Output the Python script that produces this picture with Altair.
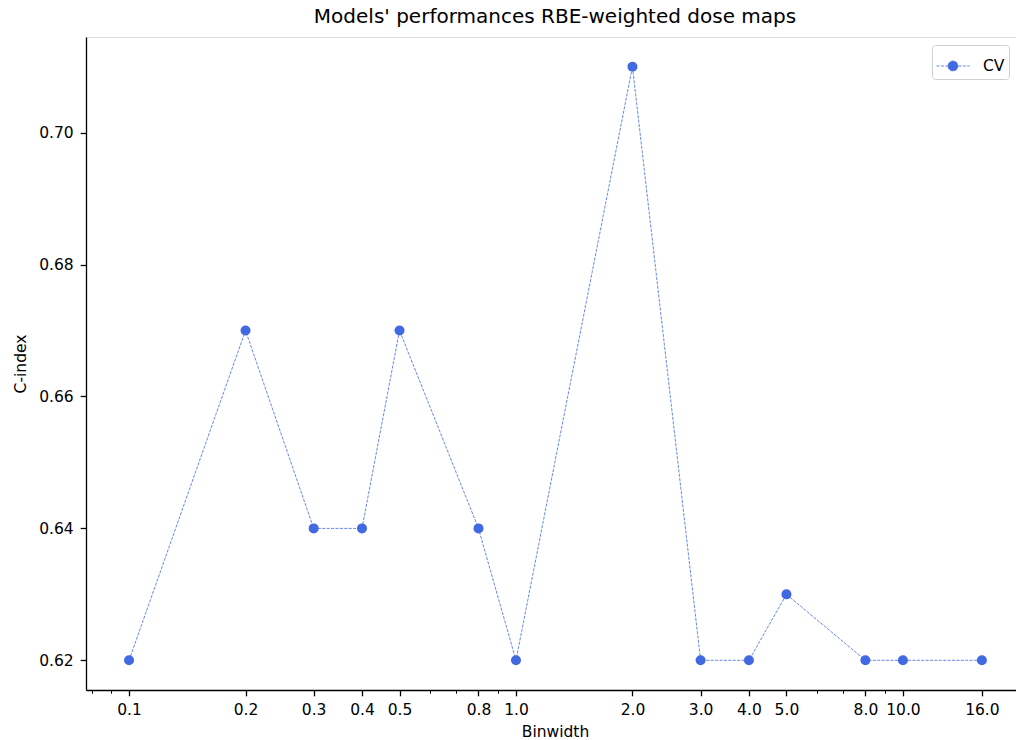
import altair as alt
import pandas as pd

binwidths = [0.1, 0.2, 0.3, 0.4, 0.5, 0.8, 1.0, 2.0, 3.0, 4.0, 5.0, 8.0, 10.0, 16.0]
cindex = [0.62, 0.67, 0.64, 0.64, 0.67, 0.64, 0.62, 0.71, 0.62, 0.62, 0.63, 0.62, 0.62, 0.62]
series = ["CV"] * len(binwidths)
minor_ticks = [0.08, 0.09, 0.6, 0.7, 0.9, 6.0, 7.0, 9.0]
y_ticks = [0.62, 0.64, 0.66, 0.68, 0.70]

df = pd.DataFrame({"binwidth": binwidths, "cindex": cindex, "series": series})

FONT = "DejaVu Sans"
BLUE = "#4169E1"
FS = 15.5

xscale = alt.Scale(type="log", domain=[0.0774, 19.6], nice=False)
yscale = alt.Scale(domain=[0.6155, 0.7145], nice=False, zero=False)

major_axis = alt.Axis(
    values=binwidths, format=".1f", grid=False, title="Binwidth",
    labelFont=FONT, labelFontSize=FS, labelColor="black", labelPadding=7,
    tickSize=5.8, tickColor="black", tickWidth=1.3, domainColor="black", domainWidth=1.3,
    titleFont=FONT, titleFontSize=FS, titleFontWeight="normal", titleColor="black",
    titlePadding=6, titleX=469, titleAlign="center", labelFlush=False, labelOverlap=False,
)
minor_axis = alt.Axis(
    values=minor_ticks, labels=False, grid=False, title=None, orient="bottom",
    tickSize=3.3, tickColor="black", tickWidth=1.0, domain=False,
)
y_axis = alt.Axis(
    values=y_ticks, format=".2f", grid=False, title="C-index",
    labelFont=FONT, labelFontSize=FS, labelColor="black", labelPadding=7,
    tickSize=5.8, tickColor="black", tickWidth=1.3, domainColor="black", domainWidth=1.3,
    titleFont=FONT, titleFontSize=FS, titleFontWeight="normal", titleColor="black",
    titlePadding=10,
)

color = alt.Color(
    "series:N",
    scale=alt.Scale(domain=["CV"], range=[BLUE]),
    legend=alt.Legend(
        title=None, orient="none", legendX=846, legendY=8,
        symbolType="M-1,0L1,0M-0.3,0A0.3,0.3,0,1,0,0.3,0A0.3,0.3,0,1,0,-0.3,0Z",
        symbolSize=1089, symbolFillColor=BLUE, symbolStrokeColor=BLUE,
        symbolStrokeWidth=0.8, symbolDash=[3.1, 1.3],
        labelFont=FONT, labelFontSize=FS, labelColor="black", labelOffset=13,
        padding=4, strokeColor="#d0d0d0", cornerRadius=3, fillColor="white",
    ),
)

base = alt.Chart(df)
line = base.mark_line(strokeDash=[3.1, 1.3], strokeWidth=0.8).encode(
    x=alt.X("binwidth:Q", scale=xscale, axis=major_axis),
    y=alt.Y("cindex:Q", scale=yscale, axis=y_axis),
    color=color,
)
points = base.mark_point(filled=True, size=100, opacity=1, shape="circle").encode(
    x=alt.X("binwidth:Q", scale=xscale),
    y=alt.Y("cindex:Q", scale=yscale),
    color=alt.Color("series:N", scale=alt.Scale(domain=["CV"], range=[BLUE]), legend=None),
)
minor = base.mark_point(opacity=0).encode(
    x=alt.X("binwidth:Q", scale=xscale, axis=minor_axis),
    y=alt.Y("cindex:Q", scale=yscale),
)

chart = alt.layer(alt.layer(line, points), minor).resolve_scale(x="independent").properties(
    width=930, height=653,
    padding={"left": 86, "top": 37, "right": 0, "bottom": 50},
    autosize=alt.AutoSizeParams(type="none"),
    title=alt.TitleParams(
        "Models' performances RBE-weighted dose maps", font=FONT, fontSize=20,
        fontWeight="normal", color="black", offset=10, anchor="middle", dx=4,
    ),
).configure_view(stroke="black", strokeWidth=1.3).configure(background="white")

chart.save("out.html", embed_options={"renderer": "svg", "actions": False})
